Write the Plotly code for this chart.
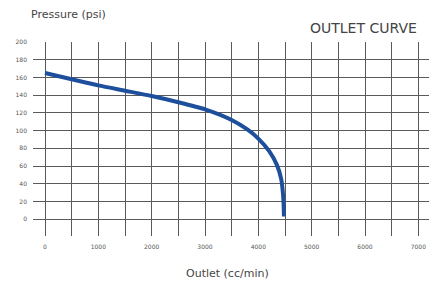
import plotly.graph_objects as go

outlet = [0, 500, 1000, 1500, 2000, 2500, 3000, 3500, 3800, 4000, 4200, 4350, 4430, 4460, 4475, 4480]
pressure = [165, 158, 151, 145, 139, 132, 124, 112, 101, 91, 77, 61, 45, 30, 15, 3]

x_ticks = [0, 1000, 2000, 3000, 4000, 5000, 6000, 7000]
x_grid = list(range(0, 7500, 500))
y_ticks = [0, 20, 40, 60, 80, 100, 120, 140, 160, 180, 200]

fig = go.Figure()
fig.add_trace(go.Scatter(x=outlet, y=pressure, mode="lines",
                         line=dict(color="#1d4f9c", width=4, shape="spline", smoothing=0.6),
                         showlegend=False, hoverinfo="skip"))

fig.update_layout(
    width=429, height=282,
    margin=dict(l=33, r=0, t=42, b=46),
    paper_bgcolor="white", plot_bgcolor="white",
    font=dict(family="DejaVu Sans, sans-serif", color="#444"),
    hovermode=False,
    xaxis=dict(range=[-225, 7200], tickmode="array", tickvals=x_grid,
               ticktext=[str(v) if v in x_ticks else "" for v in x_grid],
               showgrid=True, gridcolor="#5a5a5a", gridwidth=1.3,
               zeroline=False, showline=False, ticks="",
               tickfont=dict(size=6, color="#555"), ticklabelstandoff=6),
    yaxis=dict(range=[-19, 200], tickmode="array", tickvals=y_ticks,
               showgrid=True, gridcolor="#5a5a5a", gridwidth=1.3,
               zeroline=False, showline=False, ticks="",
               tickfont=dict(size=6, color="#555"), ticklabelstandoff=5),
    annotations=[
        dict(text="Pressure (psi)", xref="paper", yref="paper", x=-0.01, y=1.0,
             yshift=19, xanchor="left", yanchor="bottom", showarrow=False,
             font=dict(size=11, color="#444")),
        dict(text="OUTLET CURVE", xref="paper", yref="paper", x=0.975, y=1.0,
             xanchor="right", yanchor="bottom", showarrow=False, yshift=4,
             font=dict(size=14, color="#444")),
        dict(text="Outlet (cc/min)", xref="paper", yref="paper", x=0.49, y=0,
             xanchor="center", yanchor="top", showarrow=False, yshift=-29,
             font=dict(size=11, color="#444")),
    ],
)

fig.write_html("out.html", config={"displayModeBar": False},
               post_script="document.body.style.margin='0';")
